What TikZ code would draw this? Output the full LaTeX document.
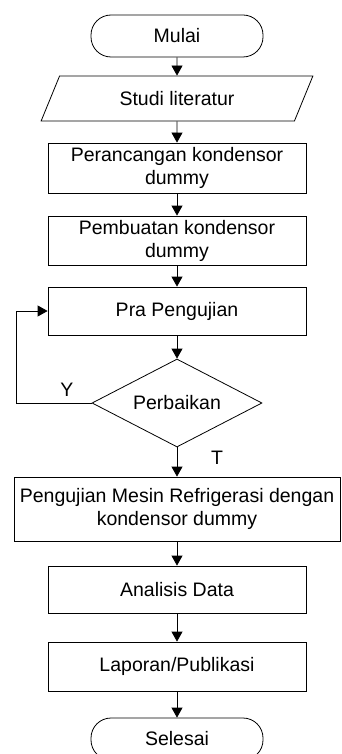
\documentclass[tikz,border=0pt]{standalone}
\usepackage{fontspec}
\setmainfont{Liberation Sans}
\usepackage{tikz}
\usetikzlibrary{arrows.meta}
\usetikzlibrary{shapes.geometric}
\usetikzlibrary{positioning}

\tikzset{
	flowbox/.style={rectangle, draw=black, line width=0.8pt, align=center, inner sep=2pt, font=\fontsize{19.5}{23}\selectfont},
	proses/.style={flowbox, minimum width=258pt, minimum height=48pt},
	terminal/.style={flowbox, rounded corners=20pt, minimum width=172pt, minimum height=42pt},
	masukan/.style={flowbox, trapezium, trapezium left angle=63, trapezium right angle=117, trapezium stretches=true, minimum width=272pt, minimum height=45pt},
	keputusan/.style={flowbox, diamond, aspect=2, minimum width=170pt, minimum height=88pt, inner sep=0pt},
	tanda/.style={font=\fontsize{19.5}{23}\selectfont, inner sep=0pt}
}

\begin{document}
\begin{tikzpicture}[x=1pt, y=-1pt]

\useasboundingbox (0,0) rectangle (341,754);
\clip (0,0) rectangle (341,754);

%% \draw[step=20pt, gray, very thin] (0,0) grid (341,754);

\node at (177,36) [terminal] (mulai) {Mulai};
\node at (177,98.5) [masukan] (studi) {Studi literatur};

\node at (177,168) [proses, minimum height=50pt] (perancangan) {Perancangan kondensor\\dummy};
\node at (177,240.5) [proses, minimum height=49pt] (pembuatan) {Pembuatan kondensor\\dummy};
\node at (177,311) [proses] (pra) {Pra Pengujian};

\node at (177,403) [keputusan] (perbaikan) {Perbaikan};
\coordinate (sudut) at (16,403);
\node at (67,390) [tanda] (ya) {Y};
\node at (217,458) [tanda] (tidak) {T};

\node at (177,509) [proses, minimum width=326pt, minimum height=64pt] (pengujian) {Pengujian Mesin Refrigerasi dengan\\kondensor dummy};
\node at (177,589.5) [proses, minimum height=47pt] (analisis) {Analisis Data};
\node at (177,666.5) [proses, minimum height=49pt] (laporan) {Laporan/Publikasi};
\node at (177,739) [terminal] (selesai) {Selesai};


\begin{scope}[>={Triangle[width=11pt, length=10pt]}, line width=0.8pt]
	\draw [->] (mulai) -- (studi);
	\draw [->] (studi) -- (perancangan);
	\draw [->] (perancangan) -- (pembuatan);
	\draw [->] (pembuatan) -- (pra);
	\draw [->] (pra) -- (perbaikan);
	\draw [->] (perbaikan.west) -- (sudut) |- (pra.west);
	\draw [->] (perbaikan) -- (pengujian);
	\draw [->] (pengujian) -- (analisis);
	\draw [->] (analisis) -- (laporan);
	\draw [->] (laporan) -- (selesai);
\end{scope}


\end{tikzpicture}
\end{document}
